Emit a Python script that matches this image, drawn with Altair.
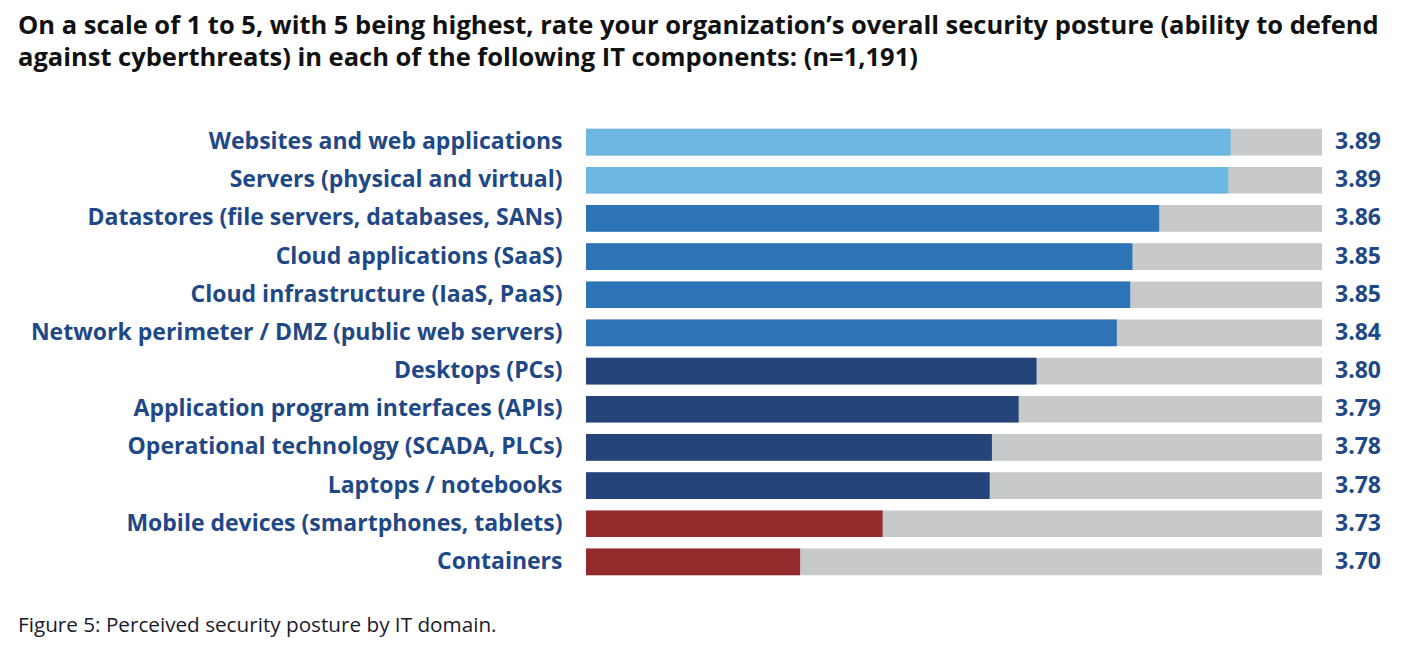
import altair as alt
import pandas as pd

categories = [
    "Websites and web applications",
    "Servers (physical and virtual)",
    "Datastores (file servers, databases, SANs)",
    "Cloud applications (SaaS)",
    "Cloud infrastructure (IaaS, PaaS)",
    "Network perimeter / DMZ (public web servers)",
    "Desktops (PCs)",
    "Application program interfaces (APIs)",
    "Operational technology (SCADA, PLCs)",
    "Laptops / notebooks",
    "Mobile devices (smartphones, tablets)",
    "Containers",
]
values = [3.889, 3.888, 3.857, 3.845, 3.844, 3.838, 3.802, 3.794, 3.782, 3.781, 3.733, 3.696]
value_labels = ["3.89", "3.89", "3.86", "3.85", "3.85", "3.84", "3.80", "3.79", "3.78", "3.78", "3.73", "3.70"]
groups = ["top", "top", "high", "high", "high", "high", "mid", "mid", "mid", "mid", "low", "low"]

group_names = ["top", "high", "mid", "low"]
group_colors = ["#6db8e3", "#2d74b7", "#25457a", "#932a2c"]

x_min, x_max = 3.6, 3.93
text_color = "#1f4886"
font = "Open Sans"

df = pd.DataFrame({"category": categories, "value": values, "label": value_labels, "group": groups})

W, H = 736, 458

y_enc = alt.Y(
    "category:N",
    sort=categories,
    title=None,
    scale=alt.Scale(paddingInner=0.3, paddingOuter=0.15),
    axis=alt.Axis(
        ticks=False, domain=False, labelFontSize=23, labelFont=font, labelFontWeight="bold",
        labelColor=text_color, labelPadding=24, labelLimit=600,
    ),
)
x_scale = alt.Scale(domain=[x_min, x_max], zero=False, nice=False)

track = alt.Chart(df).mark_bar(color="#c8c9cb").encode(
    x=alt.datum(x_min, scale=x_scale, axis=None),
    x2=alt.datum(x_max),
    y=y_enc,
)
bars = alt.Chart(df).mark_bar().encode(
    x=alt.X("value:Q", scale=x_scale, axis=None, title=None),
    x2=alt.datum(x_min),
    y=y_enc,
    color=alt.Color("group:N", scale=alt.Scale(domain=group_names, range=group_colors), legend=None),
)
texts = alt.Chart(df).mark_text(
    align="left", baseline="middle", dx=13, fontSize=23, font=font, fontWeight="bold", color=text_color
).encode(
    x=alt.datum(x_max),
    y=y_enc,
    text="label:N",
)
footer = alt.Chart(pd.DataFrame({"t": ["Figure 5: Perceived security posture by IT domain."]})).mark_text(
    align="left", baseline="alphabetic", fontSize=20.7, font=font, color="#1a1a2e"
).encode(
    x=alt.value(-568),
    y=alt.value(509),
    text="t:N",
)

chart = alt.layer(track, bars, texts, footer).properties(
    width=W,
    height=H,
    background="white",
    padding={"left": 586, "top": 123, "right": 92, "bottom": 67},
    autosize=alt.AutoSizeParams(type="none"),
    title=alt.TitleParams(
        text=[
            "On a scale of 1 to 5, with 5 being highest, rate your organization\u2019s overall security posture (ability to defend",
            "against cyberthreats) in each of the following IT components: (n=1,191)",
        ],
        anchor="start",
        frame="group",
        dx=-568,
        offset=52,
        fontSize=25.5,
        font=font,
        fontWeight="bold",
        color="#111111",
        lineHeight=32,
    ),
).configure_view(strokeWidth=0)

chart.save("out.html", embed_options={"renderer": "svg", "actions": False})
